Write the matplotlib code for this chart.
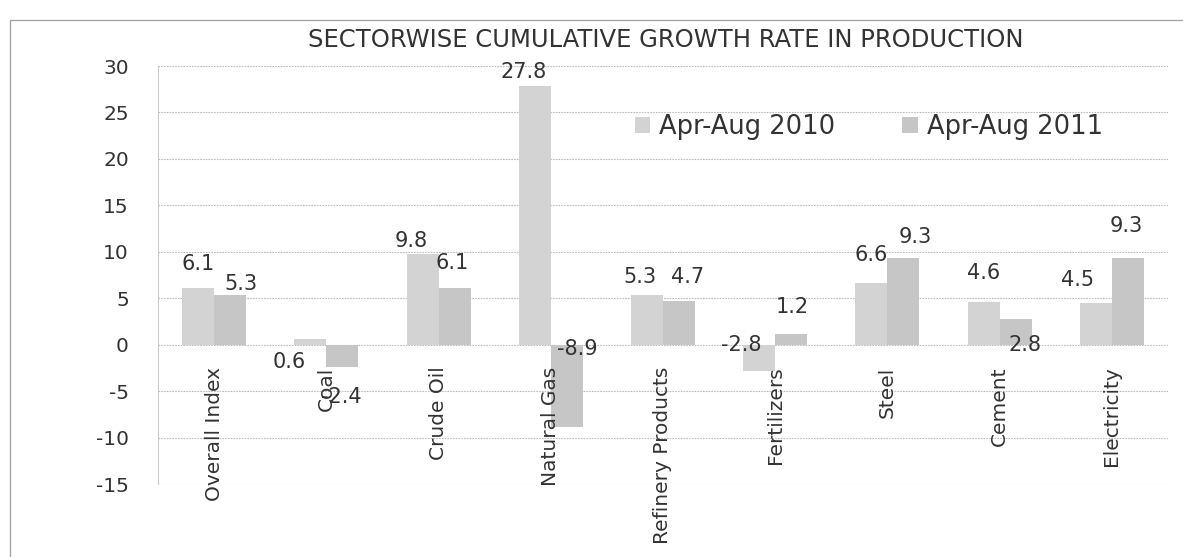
import matplotlib
matplotlib.use("Agg")
import matplotlib.pyplot as plt
from matplotlib.patches import Rectangle
import numpy as np


# ----- data -------------------------------------------------------------------
SECTORS = ["Overall Index", "Coal", "Crude Oil", "Natural Gas",
           "Refinery Products", "Fertilizers", "Steel", "Cement", "Electricity"]
GROWTH_2010 = [6.1, 0.6, 9.8, 27.8, 5.3, -2.8, 6.6, 4.6, 4.5]
GROWTH_2011 = [5.3, -2.4, 6.1, -8.9, 4.7, 1.2, 9.3, 2.8, 9.3]
SERIES = ["Apr-Aug 2010", "Apr-Aug 2011"]
Y_TICKS = list(range(-15, 31, 5))

# label nudges in pixels (dx, dy with dy downward), as placed in the scan
NUDGE_2010 = [(0, -24), (-21, 23), (-11, -13), (-11, -14), (-7, -18),
              (-18, -26), (0, -28), (0, -29), (-18, -23)]
NUDGE_2011 = [(11, -11), (-1, 30), (-2, -25), (11, -78), (9, -24),
              (1, -27), (12, -21), (9, 26), (-2, -32)]
# ------------------------------------------------------------------------------

W, H = 1183, 557
COL_2010 = "#d3d3d3"
COL_2011 = "#c6c6c6"
GRID = "#bcbcbc"
TXT = "#333333"

plt.rcParams["axes.unicode_minus"] = False


def main():
    fig = plt.figure(figsize=(W / 100, H / 100), dpi=100)
    fig.patch.set_facecolor("white")
    ax = fig.add_axes([158 / W, (H - 484) / H, (1168 - 158) / W, (484 - 66) / H])

    # frame of the scanned page
    fig.add_artist(Rectangle((10 / W, -0.1), 1.2, (H - 20) / H + 0.1,
                             transform=fig.transFigure, fill=False,
                             edgecolor="#a0a0a0", linewidth=0.9))

    x = np.arange(len(SECTORS))
    bw = 0.285
    b1 = ax.bar(x - bw / 2, GROWTH_2010, bw, color=COL_2010, label=SERIES[0], zorder=2)
    b2 = ax.bar(x + bw / 2, GROWTH_2011, bw, color=COL_2011, label=SERIES[1], zorder=2)

    for bars, vals, nudges in ((b1, GROWTH_2010, NUDGE_2010), (b2, GROWTH_2011, NUDGE_2011)):
        for rect, v, (dx, dy) in zip(bars, vals, nudges):
            cx = rect.get_x() + rect.get_width() / 2
            ax.annotate(f"{v:.1f}", (cx, v), xytext=(dx, -dy), textcoords="offset pixels",
                        ha="center", va="center", fontsize=15, color=TXT, zorder=3)

    # category names hang below the zero line, rotated
    for xi, name in zip(x, SECTORS):
        ax.annotate(name, (xi, 0), xytext=(0, -22), textcoords="offset pixels",
                    rotation=90, ha="center", va="top", fontsize=14.5, color=TXT,
                    annotation_clip=False)

    ax.set_xlim(-0.5, len(SECTORS) - 0.5)
    ax.set_ylim(-15, 30)
    ax.set_yticks(Y_TICKS)
    ax.set_xticks([])
    ax.tick_params(axis="y", length=0, pad=21, labelsize=14.5, labelcolor=TXT)
    ax.grid(axis="y", color=GRID, linestyle=(0, (1.5, 1)), linewidth=0.8, zorder=0)
    for s in ("top", "right", "bottom"):
        ax.spines[s].set_visible(False)
    ax.spines["left"].set_color("#cccccc")
    ax.spines["left"].set_linestyle((0, (1.5, 1)))
    ax.spines["left"].set_linewidth(0.8)
    ax.set_facecolor("none")

    fig.text(666 / W, (H - 40) / H, "SECTORWISE CUMULATIVE GROWTH RATE IN PRODUCTION",
             ha="center", va="center", fontsize=17.5, color=TXT)

    ax.legend(loc="center", bbox_to_anchor=(869 / W, (H - 127) / H),
              bbox_transform=fig.transFigure, ncol=2, frameon=False,
              fontsize=18.5, handlelength=0.6, handleheight=0.6,
              handletextpad=0.35, columnspacing=2.6, labelcolor=TXT)

    fig.savefig("out.png", dpi=100)


if __name__ == "__main__":
    main()
